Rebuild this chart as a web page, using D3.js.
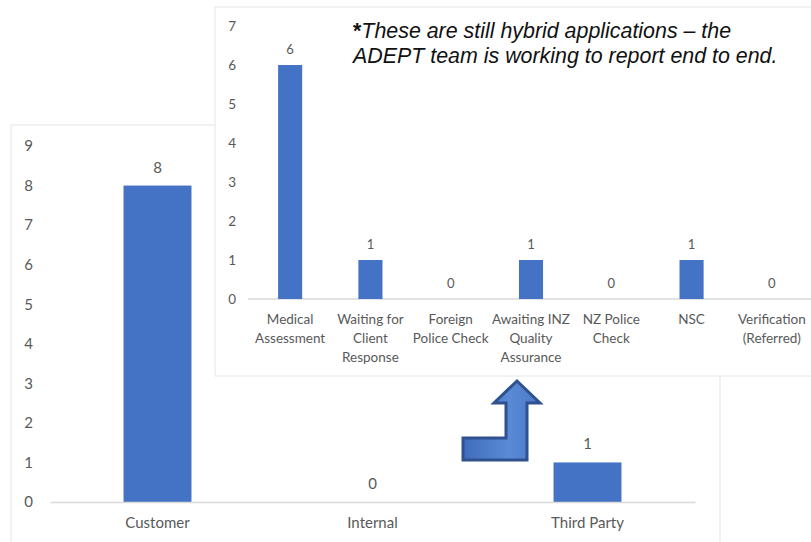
<!DOCTYPE html>
<html>
<head>
<meta charset="utf-8">
<script src="https://cdn.jsdelivr.net/npm/d3@7"></script>
<style>
  body { margin: 0; background: #ffffff; }
  svg { display: block; }
  .tick text { fill: #595959; }
</style>
</head>
<body>
<svg></svg>
<script>
// back chart data (by owner)
let backCategories = ['Customer', 'Internal', 'Third Party']
let backValues = [8, 0, 1]
let backTicks = [0, 1, 2, 3, 4, 5, 6, 7, 8, 9]

// front chart data (third party breakdown)
let frontCategories = ['Medical\nAssessment', 'Waiting for\nClient\nResponse', 'Foreign\nPolice Check',
                       'Awaiting INZ\nQuality\nAssurance', 'NZ Police\nCheck', 'NSC', 'Verification\n(Referred)']
let frontValues = [6, 1, 0, 1, 0, 1, 0]
let frontTicks = [0, 1, 2, 3, 4, 5, 6, 7]

let noteLines = ['These are still hybrid applications \u2013 the',
                 'ADEPT team is working to report end to end.']

let width = 811,
    height = 542;
let barColour = '#4472c4',
    textColour = '#595959',
    axisColour = '#d9d9d9';
let chartFont = 'Lato, "Open Sans", sans-serif';

let svg = d3.select('svg')
            .attr('width', width)
            .attr('height', height)
            .style('font-family', chartFont)

let backData = backCategories.map((c, i) => ({cat: c, value: backValues[i]}))
let frontData = frontCategories.map((c, i) => ({cat: c, value: frontValues[i]}))

// ---------- back chart ----------
let back = svg.append('g')

back.append('rect')
    .attr('x', 11).attr('y', 125)
    .attr('width', 709).attr('height', 430)
    .attr('fill', '#fff')
    .attr('stroke', '#e3e3e3')

let backX = d3.scaleBand()
      .domain(backCategories)
      .range([50, 695])
      .paddingInner(0.684)
      .paddingOuter(0.342)

let backY = d3.scaleLinear()
      .domain([0, 9])
      .range([502, 146])

back.selectAll('rect.bar')
    .data(backData)
    .enter()
    .append('rect')
    .attr('class', 'bar')
    .attr('x', d => backX(d.cat))
    .attr('y', d => backY(d.value))
    .attr('width', backX.bandwidth())
    .attr('height', d => backY(0) - backY(d.value))
    .attr('fill', barColour)

back.selectAll('text.val')
    .data(backData)
    .enter()
    .append('text')
    .attr('class', 'val')
    .attr('x', d => backX(d.cat) + backX.bandwidth() / 2)
    .attr('y', d => backY(d.value) - 13)
    .attr('text-anchor', 'middle')
    .attr('font-size', 15)
    .attr('fill', textColour)
    .text(d => d.value)

let backYAxis = d3.axisLeft(backY).tickValues(backTicks).tickFormat(d3.format('d')).tickSize(0).tickPadding(0)
back.append('g')
    .attr('transform', 'translate(33,0)')
    .call(backYAxis)
    .call(g => g.select('.domain').remove())
    .selectAll('text')
    .attr('font-size', 15)
    .attr('font-family', chartFont)

let backXAxis = d3.axisBottom(backX).tickSize(0).tickPadding(15)
back.append('g')
    .attr('transform', 'translate(0,' + backY(0) + ')')
    .call(backXAxis)
    .call(g => g.select('.domain').attr('stroke', axisColour).attr('stroke-width', 1.3))
    .selectAll('text')
    .attr('font-size', 15)
    .attr('font-family', chartFont)

// ---------- front chart ----------
let front = svg.append('g')

front.append('rect')
    .attr('x', 215).attr('y', 7)
    .attr('width', 610).attr('height', 369)
    .attr('fill', '#fff')
    .attr('stroke', '#e6e6e6')

let frontX = d3.scaleBand()
      .domain(frontCategories)
      .range([250, 812])
      .paddingInner(0.7)
      .paddingOuter(0.35)

let frontY = d3.scaleLinear()
      .domain([0, 7])
      .range([299, 26])

// baseline
front.append('line')
    .attr('x1', 248).attr('x2', 811)
    .attr('y1', frontY(0)).attr('y2', frontY(0))
    .attr('stroke', axisColour)
    .attr('stroke-width', 1.3)

front.selectAll('rect.bar')
    .data(frontData)
    .enter()
    .append('rect')
    .attr('class', 'bar')
    .attr('x', d => frontX(d.cat))
    .attr('y', d => frontY(d.value))
    .attr('width', frontX.bandwidth())
    .attr('height', d => frontY(0) - frontY(d.value))
    .attr('fill', barColour)

front.selectAll('text.val')
    .data(frontData)
    .enter()
    .append('text')
    .attr('class', 'val')
    .attr('x', d => frontX(d.cat) + frontX.bandwidth() / 2)
    .attr('y', d => frontY(d.value) - 11)
    .attr('text-anchor', 'middle')
    .attr('font-size', 13)
    .attr('fill', textColour)
    .text(d => d.value)

let frontYAxis = d3.axisLeft(frontY).tickValues(frontTicks).tickFormat(d3.format('d')).tickSize(0).tickPadding(0)
front.append('g')
    .attr('transform', 'translate(236,0)')
    .call(frontYAxis)
    .call(g => g.select('.domain').remove())
    .selectAll('text')
    .attr('font-size', 13.5)
    .attr('font-family', chartFont)

// multi-line category labels
front.selectAll('text.cat')
    .data(frontData)
    .enter()
    .append('text')
    .attr('class', 'cat')
    .attr('text-anchor', 'middle')
    .attr('font-size', 13.5)
    .attr('fill', textColour)
    .each(function(d) {
      let x = frontX(d.cat) + frontX.bandwidth() / 2
      d3.select(this).selectAll('tspan')
        .data(d.cat.split('\n'))
        .enter()
        .append('tspan')
        .attr('x', x)
        .attr('y', (l, i) => 324 + i * 19)
        .text(l => l)
    })

// note (bold asterisk + italic text)
let note = svg.append('g')
note.selectAll('text')
    .data(noteLines)
    .enter()
    .append('text')
    .attr('x', 353)
    .attr('y', (d, i) => 38 + i * 25)
    .attr('font-family', '"Liberation Sans", Arial, sans-serif')
    .attr('font-style', 'italic')
    .attr('font-size', 21.4)
    .attr('fill', '#111')
    .each(function(d, i) {
      let t = d3.select(this)
      if (i === 0) t.append('tspan').attr('font-weight', 'bold').attr('font-style', 'normal').text('*')
      t.append('tspan').text(d)
    })

// ---------- bent arrow ----------
let grad = svg.append('defs').append('linearGradient')
    .attr('id', 'arrowFill')
    .attr('x1', '0%').attr('x2', '100%')
    .attr('y1', '0%').attr('y2', '0%')
grad.append('stop').attr('offset', '0%').attr('stop-color', '#3f6cbb')
grad.append('stop').attr('offset', '60%').attr('stop-color', '#5a8ad6')
grad.append('stop').attr('offset', '100%').attr('stop-color', '#4a78c6')

let arrowPts = [[517, 381], [540, 403], [527, 403], [527, 460], [463, 460],
                [463, 438], [506, 438], [506, 403], [494, 403]]
svg.append('path')
    .attr('d', d3.line()(arrowPts) + 'Z')
    .attr('fill', 'url(#arrowFill)')
    .attr('stroke', '#2f528f')
    .attr('stroke-width', 3)
    .attr('stroke-linejoin', 'miter')
</script>
</body>
</html>
